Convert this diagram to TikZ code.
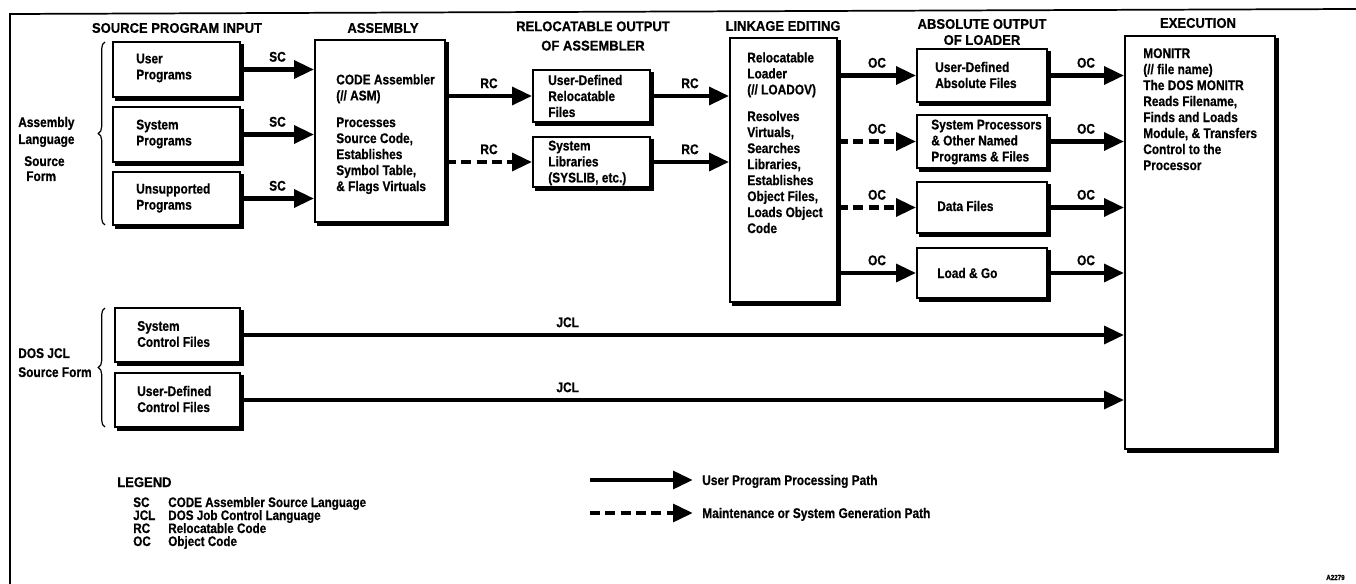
\documentclass[tikz,border=0pt]{standalone}
\usepackage{fontspec}
\setmainfont{Liberation Sans Bold}[FakeStretch=0.85,FakeBold=0.6]
\newfontfamily\hdfam{Liberation Sans Bold}[FakeStretch=0.93,FakeBold=0.6]
\usetikzlibrary{arrows.meta,decorations.pathreplacing}
\newcommand\bxf{\fontsize{10.5}{12}\selectfont}
\newcommand\hdf{\hdfam\fontsize{10.5}{13.5}\selectfont}
\newcommand\lgf{\fontsize{10.3}{12}\selectfont}
\newcommand\mkbox[5]{%
 \pgfmathsetmacro\mkw{(#4-#2)*0.75}%
 \pgfmathsetmacro\mkh{(#5-#3)*0.75}%
 \node[box, minimum width=\mkw pt, minimum height=\mkh pt] (#1) at ({(#2+#4)/2},{(#3+#5)/2}) {};}
\begin{document}
\begin{tikzpicture}[x=0.75pt,y=-0.75pt,
 box/.style={draw, line width=1.3pt, fill=white, inner sep=0pt,
   preaction={draw, fill=black, line width=1.3pt, transform canvas={xshift=2pt, yshift=-2pt}}},
 tx/.style={inner sep=0pt, align=left, font=\bxf},
 hd/.style={inner sep=0pt, align=center, font=\hdf},
 lg/.style={inner sep=0pt, font=\lgf, anchor=base west},
 arr/.style={line width=3.6pt, -{Triangle[length=15pt,width=13pt]}},
 darr/.style={arr, dash pattern=on 7.5pt off 4pt},
 lab/.style={font=\bxf, inner sep=0pt, above=4pt},
 brc/.style={line width=0.9pt, decorate, decoration={brace, amplitude=5pt}}]
\fill[white] (0,0) rectangle (1356,584);
\useasboundingbox (0,0) rectangle (1356,584);
% frame
\draw[line width=1.3pt] (1356,9) -- (10,14) -- (10,584);
% headers
\node[hd] (h1) at (177,28) {SOURCE PROGRAM INPUT};
\node[hd] (h2) at (383,28) {ASSEMBLY};
\node[hd] (h3) at (593,36) {RELOCATABLE OUTPUT\\[1pt]OF ASSEMBLER};
\node[hd] (h4) at (783,26) {LINKAGE EDITING};
\node[hd] (h5) at (982,32) {ABSOLUTE OUTPUT\\[-1.5pt]OF LOADER};
\node[hd] (h6) at (1198,23) {EXECUTION};
% boxes
\mkbox{up}{113}{42}{240}{97}
\mkbox{sp}{113}{107}{240}{162}
\mkbox{unp}{113}{172}{240}{225}
\mkbox{asm}{315}{40}{445}{222}
\mkbox{udr}{533}{70}{650}{122}
\mkbox{sl}{533}{137}{650}{187}
\mkbox{lnk}{730}{38}{837}{302}
\mkbox{uda}{917}{49}{1047}{102}
\mkbox{spr}{917}{115}{1047}{168}
\mkbox{df}{917}{182}{1047}{233}
\mkbox{lng}{917}{248}{1047}{298}
\mkbox{exe}{1125}{36}{1275}{449}
\mkbox{scf}{115}{308}{240}{362}
\mkbox{ucf}{115}{373}{240}{427}
% box texts
\node[tx, anchor=west] (upt) at (136,68) {User\\Programs};
\node[tx, anchor=west] (spt) at (136,134) {System\\Programs};
\node[tx, anchor=west] (unpt) at (136,198) {Unsupported\\Programs};
\node[tx, anchor=north west] (asmt) at (336,74) {CODE Assembler\\(// ASM)\\[8pt]Processes\\Source Code,\\Establishes\\Symbol Table,\\\& Flags Virtuals};
\node[tx, anchor=west] (udrt) at (548,96) {User-Defined\\Relocatable\\Files};
\node[tx, anchor=west] (slt) at (548,163) {System\\Libraries\\(SYSLIB, etc.)};
\node[tx, anchor=north west] (lnkt) at (747,52) {Relocatable\\Loader\\(// LOADOV)\\[8pt]Resolves\\Virtuals,\\Searches\\Libraries,\\Establishes\\Object Files,\\Loads Object\\Code};
\node[tx, anchor=west] (udat) at (935,75) {User-Defined\\Absolute Files};
\node[tx, anchor=west] (sprt) at (931,142) {System Processors\\\& Other Named\\Programs \& Files};
\node[tx, anchor=west] (dft) at (937,206) {Data Files};
\node[tx, anchor=west] (lngt) at (937,273) {Load \& Go};
\node[tx, anchor=north west] (exet) at (1143,48) {MONITR\\(// file name)\\The DOS MONITR\\Reads Filename,\\Finds and Loads\\Module, \& Transfers\\Control to the\\Processor};
\node[tx, anchor=west] (scft) at (137,334) {System\\Control Files};
\node[tx, anchor=west] (ucft) at (137,399) {User-Defined\\Control Files};
% side labels and braces
\node[tx, anchor=base west] (al1) at (18,127) {Assembly};
\node[tx, anchor=base west] (al2) at (18,144) {Language};
\node[tx, anchor=base west] (al3) at (24,166) {Source};
\node[tx, anchor=base west] (al4) at (26,181) {Form};
\node[tx, anchor=base west] (dj1) at (18,358) {DOS JCL};
\node[tx, anchor=base west] (dj2) at (18,377) {Source Form};
\draw[brc] (105,225) -- (105,42);
\draw[brc] (105,427) -- (105,308);
% connectors
\draw[arr] (up.east) -- (up.east -| asm.west) node[lab, midway] {SC};
\draw[arr] (sp.east) -- (sp.east -| asm.west) node[lab, midway] {SC};
\draw[arr] (unp.east) -- (unp.east -| asm.west) node[lab, midway] {SC};
\draw[arr] (asm.east |- udr.west) -- (udr.west) node[lab, midway] {RC};
\draw[darr] (asm.east |- sl.west) -- (sl.west) node[lab, midway] {RC};
\draw[arr] (udr.east) -- (udr.east -| lnk.west) node[lab, midway] {RC};
\draw[arr] (sl.east) -- (sl.east -| lnk.west) node[lab, midway] {RC};
\draw[arr] (lnk.east |- uda.west) -- (uda.west) node[lab, midway] {OC};
\draw[darr] (lnk.east |- spr.west) -- (spr.west) node[lab, midway] {OC};
\draw[darr] (lnk.east |- df.west) -- (df.west) node[lab, midway] {OC};
\draw[arr] (lnk.east |- lng.west) -- (lng.west) node[lab, midway] {OC};
\draw[arr] (uda.east) -- (uda.east -| exe.west) node[lab, midway] {OC};
\draw[arr] (spr.east) -- (spr.east -| exe.west) node[lab, midway] {OC};
\draw[arr] (df.east) -- (df.east -| exe.west) node[lab, midway] {OC};
\draw[arr] (lng.east) -- (lng.east -| exe.west) node[lab, midway] {OC};
\draw[arr] (scf.east) -- (scf.east -| exe.west) node[lab, pos=0.37] {JCL};
\draw[arr] (ucf.east) -- (ucf.east -| exe.west) node[lab, pos=0.37] {JCL};
% legend
\node[hd, anchor=base west] (leg) at (117,487) {LEGEND};
\node[lg] (k1) at (133,507) {SC};
\node[lg] (k2) at (133,520) {JCL};
\node[lg] (k3) at (133,533) {RC};
\node[lg] (k4) at (133,546) {OC};
\node[lg] (d1) at (168,507) {CODE Assembler Source Language};
\node[lg] (d2) at (168,520) {DOS Job Control Language};
\node[lg] (d3) at (168,533) {Relocatable Code};
\node[lg] (d4) at (168,546) {Object Code};
\coordinate (la1) at (590,480);
\coordinate (lb1) at (693,480);
\coordinate (la2) at (590,513);
\coordinate (lb2) at (693,513);
\draw[arr] (la1) -- (lb1);
\draw[darr] (la2) -- (lb2);
\node[tx, anchor=base west] (lt1) at (702,485) {User Program Processing Path};
\node[tx, anchor=base west] (lt2) at (702,518) {Maintenance or System Generation Path};
\node[inner sep=0pt, anchor=base west, font=\fontsize{5.5}{6}\selectfont] (fig) at (1326,580) {A2279};
\end{tikzpicture}
\end{document}
